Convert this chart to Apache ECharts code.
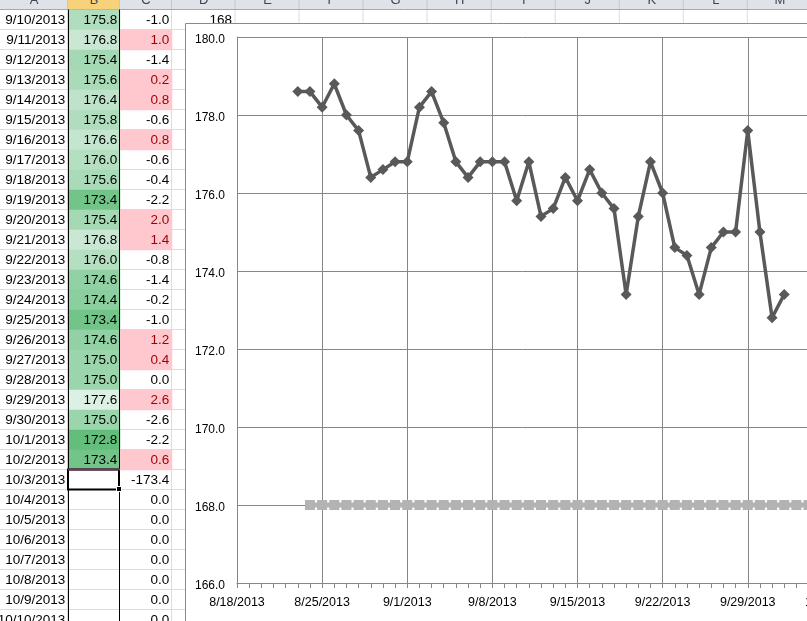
<!DOCTYPE html>
<html><head><meta charset="utf-8">
<script src="https://cdn.jsdelivr.net/npm/echarts/dist/echarts.min.js"></script>
<style>html,body{margin:0;padding:0;background:#fff;overflow:hidden}#c{width:807px;height:621px}</style>
</head><body><div id="c"></div>
<script>
// ---- data ----
const xTickLabels = ['8/18/2013','8/25/2013','9/1/2013','9/8/2013','9/15/2013','9/22/2013','9/29/2013','10/6/2013','10/13/2013'];
const yTickValues = [166, 168, 170, 172, 174, 176, 178, 180];
const earlyDates = ['8/23/2013','8/24/2013','8/25/2013','8/26/2013','8/27/2013','8/28/2013','8/29/2013','8/30/2013','8/31/2013','9/1/2013','9/2/2013','9/3/2013','9/4/2013','9/5/2013','9/6/2013','9/7/2013','9/8/2013','9/9/2013'];
const earlyValues = [178.6,178.6,178.2,178.8,178.0,177.6,176.4,176.6,176.8,176.8,178.2,178.6,177.8,176.8,176.4,176.8,176.8,176.8];
const sheetDates = ['9/10/2013','9/11/2013','9/12/2013','9/13/2013','9/14/2013','9/15/2013','9/16/2013','9/17/2013','9/18/2013','9/19/2013','9/20/2013','9/21/2013','9/22/2013','9/23/2013','9/24/2013','9/25/2013','9/26/2013','9/27/2013','9/28/2013','9/29/2013','9/30/2013','10/1/2013','10/2/2013','10/3/2013','10/4/2013','10/5/2013','10/6/2013','10/7/2013','10/8/2013','10/9/2013','10/10/2013'];
const colB = [175.8,176.8,175.4,175.6,176.4,175.8,176.6,176.0,175.6,173.4,175.4,176.8,176.0,174.6,174.4,173.4,174.6,175.0,175.0,177.6,175.0,172.8,173.4];
const colC = [-1.0,1.0,-1.4,0.2,0.8,-0.6,0.8,-0.6,-0.4,-2.2,2.0,1.4,-0.8,-1.4,-0.2,-1.0,1.2,0.4,0.0,2.6,-2.6,-2.2,0.6,-173.4,0.0,0.0,0.0,0.0,0.0,0.0,0.0];
const targetDates = earlyDates.slice(1).concat(sheetDates);
const targetValues = [168,168,168,168,168,168,168,168,168,168,168,168,168,168,168,168,168,168,168,168,168,168,168,168,168,168,168,168,168,168,168,168,168,168,168,168,168,168,168,168,168,168,168,168,168,168,168,168];
const colLetters = ['A','B','C','D','E','F','G','H','I','J','K','L','M'];

// ---- helpers ----
function dayNum(s){const p=s.split('/').map(Number);return Date.UTC(p[2],p[0]-1,p[1])/86400000;}
const base = dayNum(xTickLabels[0]);
const lineDates = earlyDates.concat(sheetDates.slice(0, colB.length));
const lineValues = earlyValues.concat(colB);
const lineData = lineDates.map((d,i)=>[dayNum(d)-base, lineValues[i]]);
const targetData = targetDates.map((d,i)=>[dayNum(d)-base, targetValues[i]]);
const vMin = Math.min.apply(null, lineValues), vMax = Math.max.apply(null, lineValues);

const FONT = 'Liberation Sans';
const colEdges = [0,68,120,172,235.5,299.5,363.5,427.5,491.7,555.7,619.8,683.8,747.8,811.8];
const ROW_TOP = 10, ROW_H = 20, NROWS = sheetDates.length;

// ---- spreadsheet chrome (graphic) ----
const g = [];
for (let k = 0; k <= NROWS; k++) {
  const y = ROW_TOP - 0.5 + ROW_H * (k + 1);
  g.push({type:'line', z:1, silent:true, shape:{x1:0,y1:y,x2:807,y2:y}, style:{stroke:'#dadcdd', lineWidth:1}});
}
for (let i = 1; i < colEdges.length; i++) {
  const x = colEdges[i] - 0.5;
  g.push({type:'line', z:1, silent:true, shape:{x1:x,y1:9,x2:x,y2:621}, style:{stroke:'#dadcdd', lineWidth:1}});
}
// header bar
g.push({type:'rect', z:2, silent:true, shape:{x:0,y:0,width:807,height:9}, style:{fill:'#dfe3e8'}});
g.push({type:'rect', z:2, silent:true, shape:{x:68,y:0,width:52,height:9}, style:{fill:'#f8d27a'}});
g.push({type:'line', z:2, silent:true, shape:{x1:0,y1:9.5,x2:807,y2:9.5}, style:{stroke:'#9eaabb', lineWidth:1}});
g.push({type:'line', z:2, silent:true, shape:{x1:68,y1:9.5,x2:120,y2:9.5}, style:{stroke:'#e7a93a', lineWidth:1}});
for (let i = 0; i < colLetters.length; i++) {
  const x0 = colEdges[i], x1 = colEdges[i+1];
  if (i > 0) g.push({type:'line', z:2, silent:true, shape:{x1:x0-0.5,y1:0,x2:x0-0.5,y2:9}, style:{stroke:'#c3c9d2', lineWidth:1}});
  g.push({type:'text', z:3, silent:true, x:(x0+x1)/2, y:0, style:{text:colLetters[i], fill:'#3b4658', font:'13px "'+FONT+'"', align:'center', verticalAlign:'middle'}});
}
// D1 value
g.push({type:'text', z:2, silent:true, x:232, y:20.5, style:{text:String(targetValues[0]), fill:'#000', font:'13.5px "'+FONT+'"', align:'right', verticalAlign:'middle'}});
// column B borders
g.push({type:'line', z:6, silent:true, shape:{x1:68.5,y1:9.5,x2:68.5,y2:621}, style:{stroke:'#000', lineWidth:1}});
g.push({type:'line', z:6, silent:true, shape:{x1:119.5,y1:9.5,x2:119.5,y2:621}, style:{stroke:'#000', lineWidth:1}});
// selected cell (first empty B cell)
const selRow = colB.length;
const sy = ROW_TOP + ROW_H * selRow;
g.push({type:'rect', z:7, silent:true, shape:{x:68,y:sy-0.5,width:51,height:20}, style:{fill:'none', stroke:'#000', lineWidth:2}});
g.push({type:'line', z:7, silent:true, shape:{x1:68,y1:sy-0.5,x2:120,y2:sy-0.5}, style:{stroke:'#74335f', lineWidth:2}});
g.push({type:'rect', z:8, silent:true, shape:{x:116.5,y:sy+16.5,width:5,height:5}, style:{fill:'#000', stroke:'#fff', lineWidth:1}});
// chart frame
g.push({type:'rect', z:5, silent:true, shape:{x:185.5,y:23.5,width:800,height:800}, style:{fill:'#fff', stroke:'#8a8a8a', lineWidth:1}});

// ---- option ----
const cellLabel = {show:true, position:'insideRight', distance:3, color:'#000', fontSize:13.5, fontFamily:FONT, textBorderWidth:0, padding:[2,0,0,0]};
function sheetGrid(left, width){return {left:left, top:ROW_TOP, width:width, height:ROW_H*NROWS, outerBoundsMode:'none', containLabel:false};}
function catX(i, name){return {type:'category', gridIndex:i, data:[name], show:false};}
function catY(i){return {type:'category', gridIndex:i, data:sheetDates, inverse:true, show:false};}

const option = {
  animation:false,
  backgroundColor:'#fff',
  graphic:{elements:g},
  grid:[sheetGrid(0,68), sheetGrid(68,52), sheetGrid(120,52),
        {left:237, top:37, width:681, height:546, outerBoundsMode:'none', containLabel:false}],
  xAxis:[catX(0,'A'), catX(1,'B'), catX(2,'C'),
    {type:'value', gridIndex:3, min:0, max:56, interval:7, z:10,
     axisLine:{show:true, lineStyle:{color:'#868686', width:1}},
     axisTick:{show:true, length:5, lineStyle:{color:'#868686'}},
     minorTick:{show:true, splitNumber:7, length:5, lineStyle:{color:'#868686'}},
     splitLine:{show:true, lineStyle:{color:'#868686', width:1}},
     minorSplitLine:{show:false},
     axisLabel:{show:true, margin:13, color:'#000', fontSize:12.5, fontFamily:FONT, showMinLabel:true, showMaxLabel:true, hideOverlap:false,
       formatter:function(v){return xTickLabels[Math.round(v/7)] || '';}}}],
  yAxis:[catY(0), catY(1), catY(2),
    {type:'value', gridIndex:3, min:yTickValues[0], max:yTickValues[yTickValues.length-1], interval:2, z:10,
     axisLine:{show:true, lineStyle:{color:'#868686', width:1}},
     axisTick:{show:false},
     splitLine:{show:true, lineStyle:{color:'#868686', width:1}},
     axisLabel:{show:true, margin:12, color:'#000', fontSize:12, fontFamily:FONT, showMinLabel:true, showMaxLabel:true,
       rich:{t:{fontSize:12, fontFamily:FONT, color:'#000', padding:[5,0,0,0]}},
       formatter:function(v){return '{t|' + v.toFixed(1) + '}';}}}],
  visualMap:[
    {type:'continuous', show:false, seriesIndex:1, dimension:2, min:vMin, max:vMax, inRange:{color:['#63BE7B','#FCFCFF']}},
    {type:'piecewise', show:false, seriesIndex:2, dimension:2, pieces:[{gt:0, color:'#FFC7CE'},{lte:0, color:'rgba(255,255,255,0)'}]}
  ],
  series:[
    {type:'heatmap', xAxisIndex:0, yAxisIndex:0, z:3, silent:true, emphasis:{disabled:true},
     itemStyle:{color:'rgba(255,255,255,0)'},
     data:sheetDates.map((d,i)=>[0,i,0]),
     label:Object.assign({}, cellLabel, {formatter:function(p){return sheetDates[p.value[1]];}})},
    {type:'heatmap', xAxisIndex:1, yAxisIndex:1, z:3, silent:true, emphasis:{disabled:true},
     data:colB.map((v,i)=>[0,i,v]),
     label:Object.assign({}, cellLabel, {formatter:function(p){return p.value[2].toFixed(1);}})},
    {type:'heatmap', xAxisIndex:2, yAxisIndex:2, z:3, silent:true, emphasis:{disabled:true},
     data:colC.map((v,i)=>({value:[0,i,v], label:{color: v>0 ? '#9C0006' : '#000'}})),
     label:Object.assign({}, cellLabel, {formatter:function(p){return p.value[2].toFixed(1);}})},
    {type:'line', xAxisIndex:3, yAxisIndex:3, z:12, silent:true, data:lineData,
     symbol:'diamond', symbolSize:11, showAllSymbol:true,
     lineStyle:{color:'#595959', width:3.5}, itemStyle:{color:'#595959'}},
    {type:'line', xAxisIndex:3, yAxisIndex:3, z:11, silent:true, data:targetData,
     symbol:'rect', symbolSize:10, showAllSymbol:true,
     lineStyle:{color:'#b3b3b3', width:5}, itemStyle:{color:'#b3b3b3'}}
  ]
};
const chart = echarts.init(document.getElementById('c'), null, {renderer:'canvas'});
chart.setOption(option);
</script></body></html>
